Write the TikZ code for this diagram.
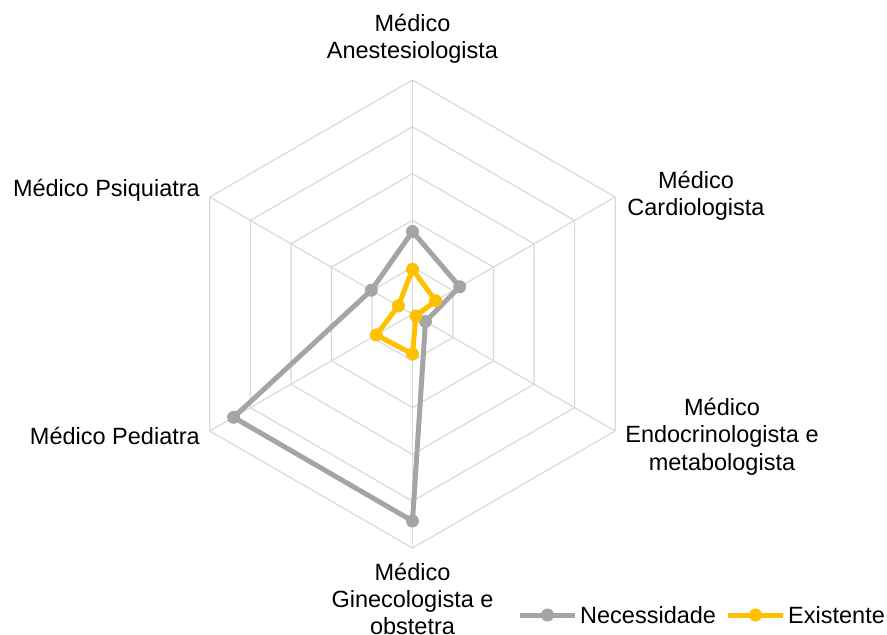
\documentclass[tikz,border=0pt]{standalone}
\usepackage{fontspec}
\setmainfont{Liberation Sans}
\usetikzlibrary{calc}
\definecolor{gridc}{HTML}{D9D9D9}
\definecolor{necc}{HTML}{A5A5A5}
\definecolor{exc}{HTML}{FFC000}
\begin{document}
\begin{tikzpicture}[x=1pt,y=1pt,
  lbl/.style={font=\fontsize{23.5}{27.5}\selectfont, inner sep=0pt, align=center, text=black},
  gridline/.style={gridc, line width=1.2pt},
  series/.style={line width=5pt, line join=round, line cap=round},
  marker/.style={fill=#1}]
\useasboundingbox (-412.5,-321) rectangle (474.5,314);
% grid
\foreach \k in {1,...,5} {
  \draw[gridline] (90:\k*46.8) -- (30:\k*46.8) -- (-30:\k*46.8) -- (-90:\k*46.8) -- (-150:\k*46.8) -- (150:\k*46.8) -- cycle;
}
\coordinate (c) at (0,0);
\foreach \a [count=\i] in {90,30,-30,-90,-150,150} {
  \coordinate (ax\i) at (\a:234);
  \draw[gridline] (c) -- (ax\i);
}
% Necessidade
\draw[series, necc] (90:82.5) coordinate (n1) -- (30:54.5) coordinate (n2) -- (-30:15) coordinate (n3) -- (-90:207) coordinate (n4) -- (-150:206.6) coordinate (n5) -- (150:47.5) coordinate (n6) -- cycle;
\foreach \c in {n1,n2,n3,n4,n5,n6} \fill[marker=necc] (\c) circle (6.5);
% Existente
\draw[series, exc] (90:44.7) coordinate (e1) -- (30:26.6) coordinate (e2) -- (-30:4) coordinate (e3) -- (-90:40) coordinate (e4) -- (-150:41.8) coordinate (e5) -- (150:16.3) coordinate (e6) -- cycle;
\foreach \c in {e1,e2,e3,e4,e5,e6} \fill[marker=exc] (\c) circle (6.5);
% labels
\node[lbl] (l1) at (0,275) {Médico\\Anestesiologista};
\node[lbl] (l2) at (283.5,118) {Médico\\Cardiologista};
\node[lbl] (l3) at (309.5,-122.5) {Médico\\Endocrinologista e\\metabologista};
\node[lbl, font=\fontsize{23.5}{27}\selectfont] (l4) at (0,-285) {Médico\\Ginecologista e\\obstetra};
\node[lbl, anchor=east] (l5) at (-212.5,-121.7) {Médico Pediatra};
\node[lbl, anchor=east] (l6) at (-212.5,123.3) {Médico Psiquiatra};
% legend
\coordinate (lg1a) at (107.5,-301);
\coordinate (lg1b) at (162.5,-301);
\draw[series, necc, line cap=butt] (lg1a) -- (lg1b);
\fill[necc] ($(lg1a)!0.5!(lg1b)$) circle (6.5);
\node[lbl, anchor=west] (t1) at (167.5,-301) {Necessidade};
\coordinate (lg2a) at (315.5,-301);
\coordinate (lg2b) at (370.5,-301);
\draw[series, exc, line cap=butt] (lg2a) -- (lg2b);
\fill[exc] ($(lg2a)!0.5!(lg2b)$) circle (6.5);
\node[lbl, anchor=west] (t2) at (375.5,-301) {Existente};
\end{tikzpicture}
\end{document}
